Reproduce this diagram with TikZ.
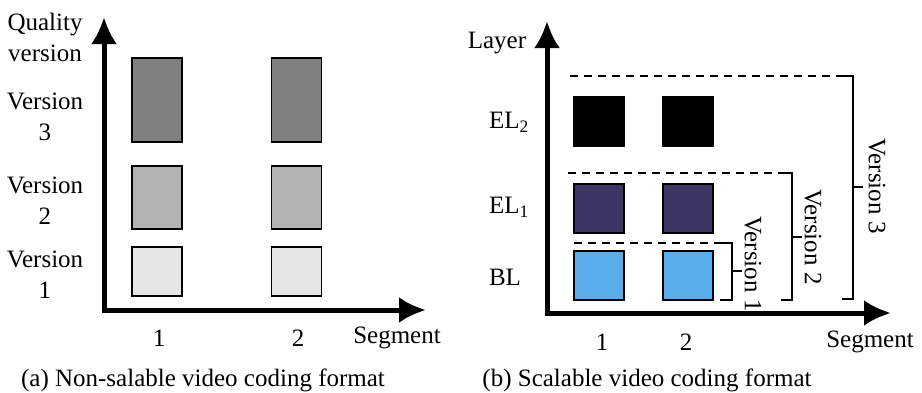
\documentclass[tikz,border=0pt]{standalone}
\usepackage{fontspec}
\setmainfont{Liberation Serif}
\usetikzlibrary{arrows.meta}
\definecolor{qthree}{HTML}{808080}
\definecolor{qtwo}{HTML}{B3B3B3}
\definecolor{qone}{HTML}{E6E6E6}
\definecolor{elone}{HTML}{3C3563}
\definecolor{basel}{HTML}{5AADEB}
\begin{document}
\begin{tikzpicture}[x=1pt,y=-1pt,
  every node/.style={font=\fontsize{25}{31}\selectfont, inner sep=0pt, outer sep=0pt},
  axis/.style={line width=5pt, line join=miter, {Latex[length=27pt,width=26pt]}-{Latex[length=27pt,width=26pt]}},
  seg/.style={draw=black, line width=1.2pt, minimum width=50pt},
  lbl/.style={align=center},
  rule/.style={line width=2.6pt, dash pattern=on 8pt off 6pt},
  brace/.style={line width=2.6pt, line join=miter}
]
\useasboundingbox (0,0) rectangle (922,392);

% ---------- (a) non-scalable ----------
\coordinate (aTop) at (104,17);
\coordinate (aO) at (104,310);
\coordinate (aRight) at (426,310);
\draw[axis] (aTop) -- (aO) -- (aRight);

\node[seg, fill=qthree, minimum height=84pt] (a31) at (157,100) {};
\node[seg, fill=qthree, minimum height=84pt] (a32) at (296.5,100) {};
\node[seg, fill=qtwo, minimum height=63pt] (a21) at (157,197.5) {};
\node[seg, fill=qtwo, minimum height=63pt] (a22) at (296.5,197.5) {};
\node[seg, fill=qone, minimum height=49pt] (a11) at (157,271.5) {};
\node[seg, fill=qone, minimum height=49pt] (a12) at (296.5,271.5) {};

\node[lbl] (aq) at (45,37) {Quality\\version};
\node[lbl] (av3) at (45,117) {Version\\3};
\node[lbl] (av2) at (45,201) {Version\\2};
\node[lbl] (av1) at (45,275) {Version\\1};

\node (as1) at (159,338) {1};
\node (as2) at (298,338) {2};
\node (aseg) at (397,338) {Segment};
\node (acap) at (203,380) {(a) Non-salable video coding format};

% ---------- (b) scalable ----------
\coordinate (bTop) at (547,21);
\coordinate (bO) at (547,313);
\coordinate (bRight) at (891,313);
\draw[axis] (bTop) -- (bO) -- (bRight);

\node[seg, fill=black, minimum height=49pt] (e21) at (599,121.5) {};
\node[seg, fill=black, minimum height=49pt] (e22) at (688,121.5) {};
\node[seg, fill=elone, minimum height=49pt] (e11) at (599,208.5) {};
\node[seg, fill=elone, minimum height=49pt] (e12) at (688,208.5) {};
\node[seg, fill=basel, minimum height=49pt] (b1) at (599,275.5) {};
\node[seg, fill=basel, minimum height=49pt] (b2) at (688,275.5) {};

\node (blayer) at (497,43) {Layer};
\node[anchor=west] (bel2) at (489,122) {EL\textsubscript{2}};
\node[anchor=west] (bel1) at (489,207) {EL\textsubscript{1}};
\node[anchor=west] (bbl) at (489,277) {BL};

\node (bs1) at (602,342) {1};
\node (bs2) at (686,342) {2};
\node (bseg) at (870,342) {Segment};
\node (bcap) at (647,380) {(b) Scalable video coding format};

% version brackets
\coordinate (v3a) at (570,76);
\coordinate (v3b) at (842,76);
\coordinate (v3c) at (853,76);
\coordinate (v3d) at (853,299);
\coordinate (v3e) at (842,299);
\coordinate (v3m) at (853,187);
\coordinate (v3t) at (863,187);
\draw[rule] (v3a) -- (v3b);
\draw[brace] (v3b) -- (v3c) -- (v3d) -- (v3e);
\draw[brace] (v3m) -- (v3t);
\node[rotate=-90] (v3l) at (877,186) {Version 3};

\coordinate (v2a) at (568,173);
\coordinate (v2b) at (781,173);
\coordinate (v2c) at (792,173);
\coordinate (v2d) at (792,300);
\coordinate (v2e) at (781,300);
\coordinate (v2m) at (792,237);
\coordinate (v2t) at (802,237);
\draw[rule] (v2a) -- (v2b);
\draw[brace] (v2b) -- (v2c) -- (v2d) -- (v2e);
\draw[brace] (v2m) -- (v2t);
\node[rotate=-90] (v2l) at (813,237) {Version 2};

\coordinate (v1a) at (574,243);
\coordinate (v1b) at (720,243);
\coordinate (v1c) at (732,243);
\coordinate (v1d) at (732,300);
\coordinate (v1e) at (720,300);
\coordinate (v1m) at (732,271);
\coordinate (v1t) at (742,271);
\draw[rule] (v1a) -- (v1b);
\draw[brace] (v1b) -- (v1c) -- (v1d) -- (v1e);
\draw[brace] (v1m) -- (v1t);
\node[rotate=-90] (v1l) at (753,264) {Version 1};
\end{tikzpicture}
\end{document}
